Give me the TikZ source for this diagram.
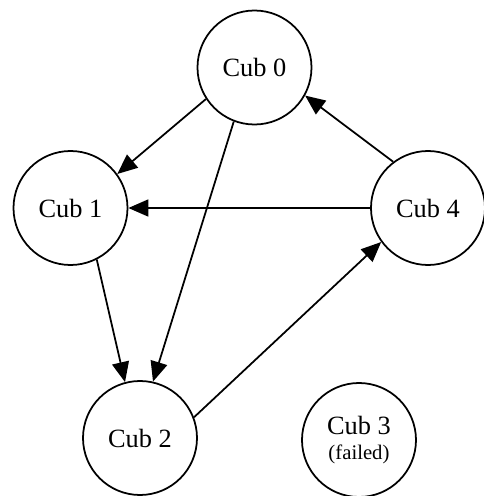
\documentclass[tikz,border=0pt]{standalone}
\usepackage{fontspec}
\setmainfont{Liberation Serif}
\usetikzlibrary{arrows.meta}

\begin{document}
\begin{tikzpicture}[
    cub/.style={circle, draw, line width=1pt, inner sep=0pt, minimum size=2.28cm,
      font=\fontsize{15}{18}\selectfont, align=center},
    link/.style={line width=1pt, -{Triangle[length=0.4cm, width=0.34cm]}}
  ]
    \useasboundingbox (0,0) rectangle (9.68,9.92);
    \node [cub] (c0) at (5.09,8.57) {Cub 0};
    \node [cub] (c1) at (1.41,5.76) {Cub 1};
    \node [cub] (c4) at (8.56,5.76) {Cub 4};
    \node [cub] (c2) at (2.80,1.16) {Cub 2};
    \node [cub] (c3) at (7.18,1.12)
      {Cub 3\\[-4pt]{\fontsize{11.8}{14}\selectfont (failed)}};
    \draw [link] (c0.213) -- (c1.36);
    \draw [link] (c0.-111) -- (c2.77);
    \draw [link] (c1.-63) -- (c2.105);
    \draw [link] (c4.west) -- (c1.east);
    \draw [link] (c4.127) -- (c0.-29);
    \draw [link] (c2.21) -- (c4.216);
  \end{tikzpicture}
\end{document}
